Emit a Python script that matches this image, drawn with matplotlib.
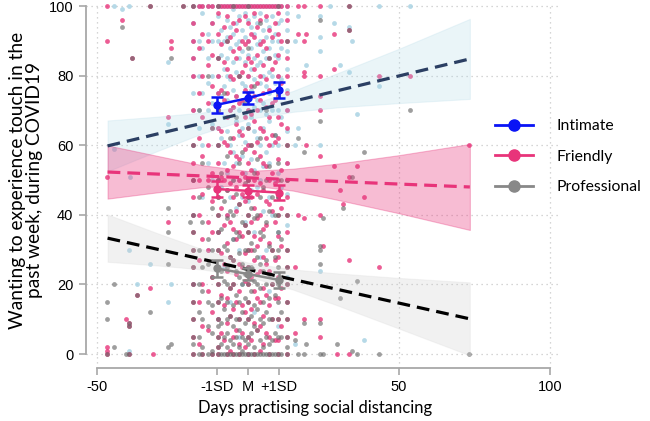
import numpy as np
import matplotlib
matplotlib.use('Agg')
import matplotlib.pyplot as plt
from matplotlib.lines import Line2D

# ---- data ----
dense_days = [-18, -16, -15, -13, -12, -10, -9, -8, -7, -6, -5, -4, -3, -2,
              -1, 0, 1, 2, 3, 4, 5, 6, 7, 8, 9, 10, 11, 13]

intimate_cols = [
    [100, 95, 90, 85, 80, 75, 70, 60, 50, 40, 20],
    [100, 90, 80, 70, 65],
    [100, 98, 88, 75, 60, 45],
    [100, 92, 85, 78, 70, 55, 30],
    [100, 95, 90, 80, 72, 66, 50],
    [100, 97, 90, 85, 80, 75, 70, 65, 60, 50, 35, 10],
    [100, 93, 86, 74, 62, 48],
    [100, 90, 82, 77, 68, 55, 25],
    [100, 96, 91, 85, 80, 73, 64, 52, 40],
    [100, 94, 88, 79, 70, 60, 45, 15],
    [100, 99, 92, 84, 76, 71, 58, 50, 33],
    [100, 95, 89, 81, 74, 67, 55, 42],
    [100, 97, 90, 85, 80, 70, 63, 50, 30, 5],
    [100, 93, 87, 78, 72, 65, 57, 45, 20],
    [100, 98, 91, 84, 77, 69, 61, 52, 38],
    [100, 96, 90, 86, 80, 75, 70, 66, 60, 50, 44, 25, 0],
    [100, 94, 88, 82, 76, 68, 56, 47],
    [100, 97, 92, 85, 79, 71, 64, 53, 35, 12],
    [100, 95, 89, 83, 73, 62, 48],
    [100, 98, 90, 84, 78, 70, 60, 50, 28],
    [100, 93, 87, 80, 72, 65, 54, 41],
    [100, 96, 91, 85, 77, 69, 58, 30],
    [100, 94, 88, 81, 75, 67, 55, 45, 18],
    [100, 97, 90, 80, 70, 60, 40],
    [100, 92, 86, 78, 63, 50],
    [100, 95, 90, 85, 80, 74, 70, 60, 52, 35, 8],
    [100, 96, 88, 79, 68, 48],
    [100, 98, 93, 87, 82, 76, 70, 64, 55, 46, 37, 22],
]

friendly_cols = [
    [100, 95, 90, 85, 80, 70, 60, 55, 50, 45, 40, 35, 30, 25, 20, 15, 10, 5, 0],
    [100, 88, 75, 62, 50, 40, 27, 15, 3],
    [100, 92, 80, 68, 57, 46, 33, 20, 8, 0],
    [100, 90, 83, 72, 60, 50, 38, 30, 18, 7],
    [100, 95, 86, 77, 65, 52, 44, 35, 22, 12, 0],
    [100, 98, 92, 85, 80, 75, 70, 65, 60, 55, 50, 45, 40, 35, 30, 25, 20, 15, 10, 5, 2, 0],
    [100, 89, 76, 64, 51, 42, 29, 17, 6],
    [100, 94, 84, 73, 61, 50, 37, 26, 14, 4],
    [100, 97, 90, 82, 75, 68, 60, 53, 47, 40, 32, 24, 16, 9, 0],
    [100, 91, 80, 70, 58, 49, 38, 28, 19, 11, 1],
    [100, 95, 87, 79, 71, 62, 54, 45, 36, 27, 20, 13, 5, 0],
    [100, 93, 85, 74, 66, 57, 48, 41, 33, 23, 15, 7],
    [100, 96, 88, 80, 72, 64, 56, 50, 43, 35, 26, 18, 10, 3, 0],
    [100, 90, 81, 73, 63, 52, 46, 34, 25, 14, 6],
    [100, 97, 89, 83, 76, 68, 59, 51, 44, 37, 29, 21, 12, 2],
    [100, 95, 90, 85, 80, 75, 70, 65, 60, 55, 50, 45, 40, 35, 30, 25, 20, 15, 10, 5, 0],
    [100, 92, 84, 77, 69, 60, 53, 45, 38, 30, 22, 13, 4],
    [100, 98, 91, 82, 74, 67, 58, 50, 42, 34, 27, 18, 9, 0],
    [100, 94, 86, 78, 70, 61, 52, 46, 39, 31, 23, 16, 7],
    [100, 96, 89, 80, 73, 65, 57, 49, 40, 33, 24, 15, 8, 1],
    [100, 90, 83, 75, 64, 55, 47, 36, 28, 19, 11, 3],
    [100, 97, 88, 79, 71, 62, 54, 44, 37, 26, 17, 6],
    [100, 93, 85, 76, 68, 60, 50, 43, 32, 24, 14, 5, 0],
    [100, 91, 82, 72, 63, 52, 41, 30, 20, 10],
    [100, 95, 84, 73, 61, 49, 38, 27, 16, 4],
    [100, 98, 92, 86, 80, 74, 68, 62, 56, 50, 45, 40, 34, 28, 22, 16, 10, 4, 0],
    [100, 90, 78, 66, 53, 42, 31, 19, 8],
    [100, 96, 90, 85, 80, 75, 70, 65, 60, 55, 50, 45, 40, 35, 30, 25, 20, 15, 10, 5, 0],
]

professional_cols = [
    [100, 60, 50, 40, 35, 30, 25, 20, 15, 10, 5, 3, 0],
    [70, 45, 30, 20, 12, 5, 0],
    [55, 38, 25, 18, 10, 2, 0],
    [80, 48, 33, 26, 15, 8, 0],
    [65, 42, 30, 22, 14, 6, 1, 0],
    [100, 85, 70, 60, 50, 45, 40, 35, 30, 25, 20, 15, 10, 8, 5, 2, 0],
    [52, 36, 24, 16, 9, 3, 0],
    [75, 44, 31, 21, 13, 5, 0],
    [90, 57, 47, 39, 30, 25, 20, 15, 10, 6, 2, 0],
    [62, 41, 28, 19, 11, 4, 0],
    [100, 50, 40, 33, 27, 20, 14, 8, 3, 0],
    [68, 46, 35, 24, 17, 10, 5, 0],
    [80, 55, 43, 34, 29, 22, 15, 10, 7, 2, 0],
    [58, 38, 26, 20, 12, 5, 1, 0],
    [72, 49, 37, 30, 23, 16, 9, 4, 0],
    [100, 88, 65, 50, 45, 40, 35, 30, 25, 20, 15, 10, 5, 3, 0],
    [60, 42, 32, 25, 18, 11, 6, 0],
    [77, 52, 39, 30, 21, 14, 8, 2, 0],
    [56, 40, 28, 20, 13, 7, 0],
    [95, 62, 45, 35, 26, 19, 10, 4, 0],
    [48, 34, 24, 15, 9, 2, 0],
    [70, 50, 38, 27, 20, 12, 5, 0],
    [85, 54, 41, 31, 23, 16, 10, 3, 0],
    [45, 30, 20, 10, 4, 0],
    [63, 40, 28, 17, 6, 0],
    [100, 75, 55, 45, 40, 35, 30, 25, 20, 15, 10, 5, 0],
    [50, 33, 22, 12, 5, 0],
    [90, 60, 50, 40, 30, 25, 20, 15, 10, 5, 2, 0],
]

# sparse points outside the dense block
intimate_extra = [(-44.4, 100), (-41.5, 99), (-39.3, 100), (-26.5, 84), (-26.3, 66),
                  (-44.4, 59), (-39, 51), (-39.3, 30), (-32.3, 26), (-36.6, 20),
                  (-25.3, 20), (-26.3, 15), (-39.3, 1), (27.3, 100), (43.4, 100),
                  (53.6, 100), (16.7, 97), (23.8, 97), (28.6, 95), (33.5, 94),
                  (15.6, 90), (23.8, 91), (34.5, 90), (23.8, 87), (19.4, 83),
                  (30.5, 83), (33.5, 81), (43.4, 77), (36.3, 69), (16.7, 65),
                  (15.6, 60), (23.8, 60), (23.8, 24), (38.5, 4), (15.6, 3)]
friendly_extra = [(-46.5, 100), (-41.5, 96), (-46.5, 90), (-25.3, 90), (-25.3, 88),
                  (-26.5, 68), (-46.5, 51), (-26.3, 38), (-32.3, 19), (-40.4, 10),
                  (-46.5, 2), (-46.5, 1), (-31.2, 0), (-38.4, 85), (-32.4, 100),
                  (-21.5, 100), (-36.6, 17), (-39.3, 9), (-39.3, 8), (-46.5, 0),
                  (-39.3, 0), (16.7, 100), (18.5, 100), (23.8, 100), (33.5, 100),
                  (28.6, 92), (16.7, 92), (19.4, 92), (18.5, 90), (28.6, 82),
                  (18.5, 81), (18.5, 80), (23.8, 80), (43.4, 80), (53.6, 80),
                  (23.8, 74), (23.8, 70), (19.4, 60), (73.3, 60), (23.8, 57),
                  (28.6, 54), (36.3, 54), (33.5, 51), (30.5, 47), (31.6, 43),
                  (38.5, 45), (16.7, 40), (18.5, 39), (23.8, 40), (25, 31),
                  (33.5, 27), (43.4, 25), (15.6, 25), (18.5, 10), (23.8, 10),
                  (23.8, 5), (15.6, 6), (29.4, 0), (33.5, 0), (33.5, 93)]
professional_extra = [(-41.5, 94), (-25.3, 85), (-26.3, 42), (-26.3, 35), (-19, 38),
                      (-26.3, 26), (-44.3, 20), (-46.5, 15), (-32.3, 12), (-46.5, 10),
                      (-44.4, 2), (-40.4, 0), (-26.3, 2), (-25.3, 3), (-38.4, 85),
                      (-32.4, 100), (-21.5, 100), (-36.6, 17), (-39.3, 9), (-39.3, 8),
                      (-46.5, 0), (-39.3, 0), (23.8, 96), (23.8, 67), (53.6, 70),
                      (16.7, 62), (18.5, 58), (38.5, 58), (34.5, 51), (31.6, 42),
                      (25, 39), (23.8, 31), (23.8, 30), (23.8, 26), (36.3, 21),
                      (30.5, 16), (18.5, 9), (23.8, 9), (19.4, 3), (15.6, 4),
                      (23.8, 0), (25, 0), (29.4, 3), (34.5, 1), (36.3, 0),
                      (43.4, 0), (73.3, 0), (18.5, 0), (16.7, 0), (33.5, 93), (33.5, 100)]

# regression lines and confidence bands
fit_x = [-46.4, 73.5]
intimate_fit = [59.8, 84.8]
friendly_fit = [52.3, 48.0]
professional_fit = [33.3, 10.1]

band_x = [-46.4, -30, -15, 0, 15, 30, 50, 73.5]
intimate_lo = [52.5, 58.3, 63.4, 67.5, 69.6, 70.9, 72.1, 73.3]
intimate_hi = [67.1, 68.2, 69.4, 71.5, 75.6, 80.8, 87.7, 96.3]
friendly_lo = [44.65, 46.45, 47.95, 48.6, 46.95, 44.25, 40.46, 35.65]
friendly_hi = [59.95, 56.95, 54.25, 52.6, 53.25, 54.75, 57.14, 60.35]
professional_lo = [26.5, 25.45, 24.3, 22.3, 18.5, 13.85, 7.32, -0.4]
professional_hi = [40.1, 34.75, 30.1, 26.3, 24.3, 23.15, 21.88, 20.6]

# simple slopes at -1SD / M / +1SD
sd_x = [-10.3, 0, 10.3]
sd_labels = ['-1SD', 'M', '+1SD']
intimate_mean = [71.6, 73.5, 75.9]
intimate_err = [2.2, 1.8, 2.2]
friendly_mean = [47.4, 46.9, 46.4]
friendly_err = [2.2, 1.8, 2.2]
professional_mean = [24.6, 23.0, 21.3]
professional_err = [2.4, 1.6, 2.4]

c_int = '#0a14f5'
c_fri = '#e8347a'
c_pro = '#888888'


def points(cols, extra):
    xs, ys = [], []
    for d, col in zip(dense_days, cols):
        xs += [d] * len(col)
        ys += col
    xs += [p[0] for p in extra]
    ys += [p[1] for p in extra]
    return xs, ys


fig = plt.figure(figsize=(6.5, 4.21), dpi=100)
ax = fig.add_axes([0.132, 0.126, 0.728, 0.868])

for v in [0, 20, 40, 60, 80, 100]:
    ax.axhline(v, color='#c8c8c8', lw=0.9, ls=(0, (1, 3)), zorder=0)
for v in [-50, 50, 100]:
    ax.axvline(v, color='#c8c8c8', lw=0.9, ls=(0, (1, 3)), zorder=0)

xi, yi = points(intimate_cols, intimate_extra)
xf, yf = points(friendly_cols, friendly_extra)
xp, yp = points(professional_cols, professional_extra)
ax.scatter(xi, yi, s=12, color='#a9d3e3', alpha=0.85, lw=0, zorder=1)
ax.scatter(xf, yf, s=12, color=c_fri, alpha=0.8, lw=0, zorder=1)
ax.scatter(xp, yp, s=12, color='#6a6a6a', alpha=0.65, lw=0, zorder=1)

ax.fill_between(band_x, intimate_lo, intimate_hi, facecolor='#add8e6', alpha=0.25,
                edgecolor='#b5dbe8', lw=0.8, zorder=2)
ax.fill_between(band_x, friendly_lo, friendly_hi, facecolor=c_fri, alpha=0.33,
                edgecolor=c_fri, lw=0.8, zorder=2)
ax.fill_between(band_x, professional_lo, professional_hi, facecolor='#c8c8c8', alpha=0.25,
                edgecolor='#d8d8d8', lw=0.8, zorder=2)

dash = (0, (4, 2.2))
ax.plot(fit_x, intimate_fit, color='#2b3f63', lw=2.3, ls=dash, zorder=3)
ax.plot(fit_x, friendly_fit, color=c_fri, lw=2.3, ls=dash, zorder=3)
ax.plot(fit_x, professional_fit, color='black', lw=2.3, ls=dash, zorder=3)

for m, e, c in [(intimate_mean, intimate_err, c_int),
                (friendly_mean, friendly_err, c_fri),
                (professional_mean, professional_err, c_pro)]:
    ax.errorbar(sd_x, m, yerr=e, color=c, lw=1.8, marker='o', ms=5,
                capsize=4, capthick=1.8, zorder=4)

ax.set_xlim(-53.6, 103)
ax.set_ylim(-4, 101)
for s in ['top', 'right']:
    ax.spines[s].set_visible(False)
ax.spines['left'].set_bounds(0, 100)
ax.spines['bottom'].set_bounds(-50, 100)
for s in ['left', 'bottom']:
    ax.spines[s].set_color('#a8a8a8')
    ax.spines[s].set_linewidth(1.3)

ax.set_xticks([-50] + sd_x + [50, 100])
ax.set_xticklabels(['-50'] + sd_labels + ['50', '100'])
ax.set_yticks([0, 20, 40, 60, 80, 100])
ax.tick_params(colors='#a8a8a8', labelcolor='black', length=5, width=1.2,
               labelsize=10.5, pad=4)
for t in ax.get_xticklabels() + ax.get_yticklabels():
    t.set_family('Liberation Sans')

ax.set_xlabel('Days practising social distancing', fontsize=12, family='Lato')
ax.xaxis.set_label_coords(0.485, -0.088)
ax.set_ylabel('Wanting to experience touch in the\npast week, during COVID19',
              fontsize=13.8, family='Lato', linespacing=1.05)
ax.yaxis.set_label_coords(-0.09, 0.514)

handles = [Line2D([], [], color=c, lw=2, marker='o', ms=8)
           for c in [c_int, c_fri, c_pro]]
fig.legend(handles, ['Intimate', 'Friendly', 'Professional'], loc='center left',
           bbox_to_anchor=(0.75, 0.628), frameon=False, borderpad=0,
           handlelength=2.4, handletextpad=1.5, labelspacing=1.05,
           prop={'family': 'Lato', 'size': 11.3})

plt.savefig('out.png', dpi=100)
